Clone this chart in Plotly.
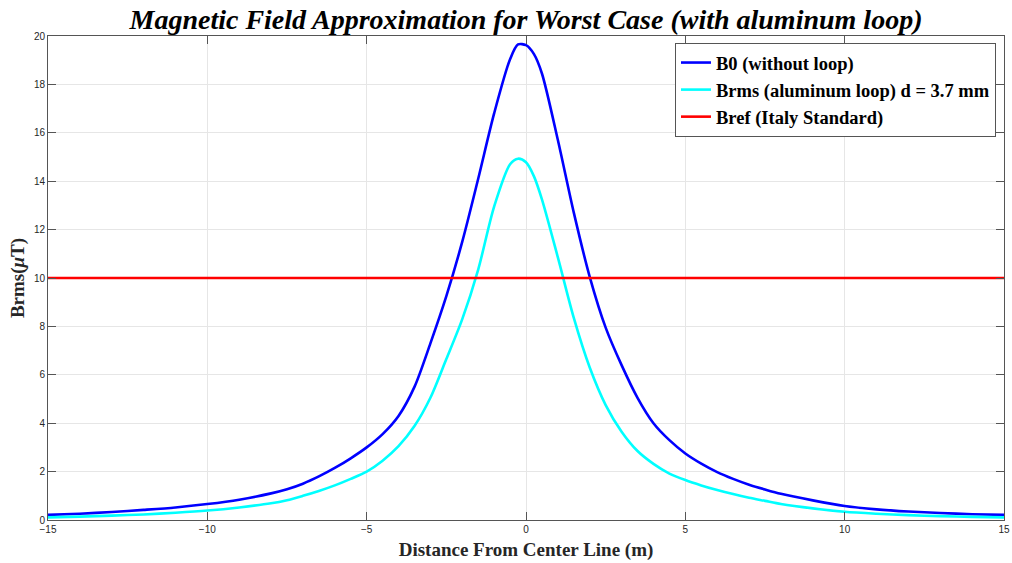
import plotly.graph_objects as go

# Distance from center line (m)
x_vals = [-15, -14, -13, -12, -11, -10, -9, -8, -7.5, -7, -6.5, -6, -5.5, -5, -4.5, -4,
          -3.5, -3, -2.5, -2, -1.5, -1, -0.5, -0.25, 0, 0.25, 0.5, 1, 1.5, 2, 2.5, 3,
          3.5, 4, 4.5, 5, 5.5, 6, 6.5, 7, 7.5, 8, 9, 10, 11, 12, 13, 14, 15]

# B0 (without loop), uT
b0_vals = [0.21, 0.26, 0.33, 0.42, 0.52, 0.66, 0.84, 1.10, 1.27, 1.50, 1.80, 2.15, 2.55, 3.0, 3.55, 4.3,
           5.5, 7.3, 9.25, 11.5, 14.1, 16.8, 19.04, 19.65, 19.62, 19.25, 18.45, 15.7, 12.7, 10.05, 7.95, 6.4,
           5.05, 4.0, 3.3, 2.75, 2.33, 1.98, 1.70, 1.46, 1.26, 1.08, 0.81, 0.58, 0.44, 0.35, 0.29, 0.24, 0.21]

# Brms (aluminum loop) d = 3.7 mm, uT
brms_vals = [0.11, 0.14, 0.18, 0.23, 0.30, 0.39, 0.52, 0.69, 0.82, 1.0, 1.2, 1.43, 1.70, 2.0, 2.45, 3.05,
             3.88, 5.05, 6.65, 8.3, 10.35, 12.95, 14.7, 14.93, 14.78, 14.2, 13.25, 10.85, 8.35, 6.3, 4.75, 3.65,
             2.85, 2.32, 1.92, 1.65, 1.43, 1.24, 1.07, 0.92, 0.79, 0.66, 0.48, 0.34, 0.26, 0.20, 0.16, 0.13, 0.11]

# Bref (Italy Standard)
bref_x = [-15, 15]
bref_vals = [10, 10]

x_ticks = [-15, -10, -5, 0, 5, 10, 15]
y_ticks = [0, 2, 4, 6, 8, 10, 12, 14, 16, 18, 20]

serif = "Liberation Serif, Times New Roman, serif"
sans = "Liberation Sans, Arial, Helvetica, sans-serif"

fig = go.Figure()
fig.add_trace(go.Scatter(x=x_vals, y=b0_vals, mode="lines", name="B0 (without loop)",
                         line=dict(color="#0000ff", width=2.6, shape="spline", smoothing=0.8)))
fig.add_trace(go.Scatter(x=x_vals, y=brms_vals, mode="lines", name="Brms (aluminum loop) d = 3.7 mm",
                         line=dict(color="#00ffff", width=2.6, shape="spline", smoothing=0.8)))
fig.add_trace(go.Scatter(x=bref_x, y=bref_vals, mode="lines", name="Bref (Italy Standard)",
                         line=dict(color="#ff0000", width=2.6)))

axis_common = dict(
    showgrid=True, gridcolor="#e6e6e6", gridwidth=1,
    showline=True, linecolor="#555555", linewidth=1, mirror="ticks",
    ticks="inside", ticklen=8, tickcolor="#555555", tickwidth=1,
    zeroline=False, automargin=False,
    tickfont=dict(family=sans, size=10, color="#262626"),
)

fig.update_layout(
    width=1012, height=563,
    margin=dict(l=48, r=8, t=36, b=43),
    paper_bgcolor="white", plot_bgcolor="white",
    title=dict(text="Magnetic Field Approximation for Worst Case (with aluminum loop)",
               x=(48 + 956 / 2) / 1012, xanchor="center", y=1 - 19 / 563, yanchor="middle",
               font=dict(family=serif, size=28, color="black", weight="bold", style="italic")),
    xaxis=dict(axis_common, range=[-15, 15], tickvals=x_ticks,
               title=dict(text="Distance From Center Line (m)", standoff=8,
                          font=dict(family=serif, size=19, color="#262626", weight="bold"))),
    yaxis=dict(axis_common, range=[0, 20], tickvals=y_ticks,
               title=dict(text="Brms(<i>μ</i>T)", standoff=4,
                          font=dict(family=serif, size=19, color="#262626", weight="bold"))),
    legend=dict(x=0.9916, xanchor="right", y=0.9855, yanchor="top",
                bgcolor="white", bordercolor="#555555", borderwidth=1,
                font=dict(family=serif, size=18.5, color="black", weight="bold"),
                tracegroupgap=0, itemwidth=30),
    showlegend=True,
)

fig.write_html("out.html", config={"displayModeBar": False},
               post_script="document.body.style.margin='0';document.body.style.overflow='hidden';")
